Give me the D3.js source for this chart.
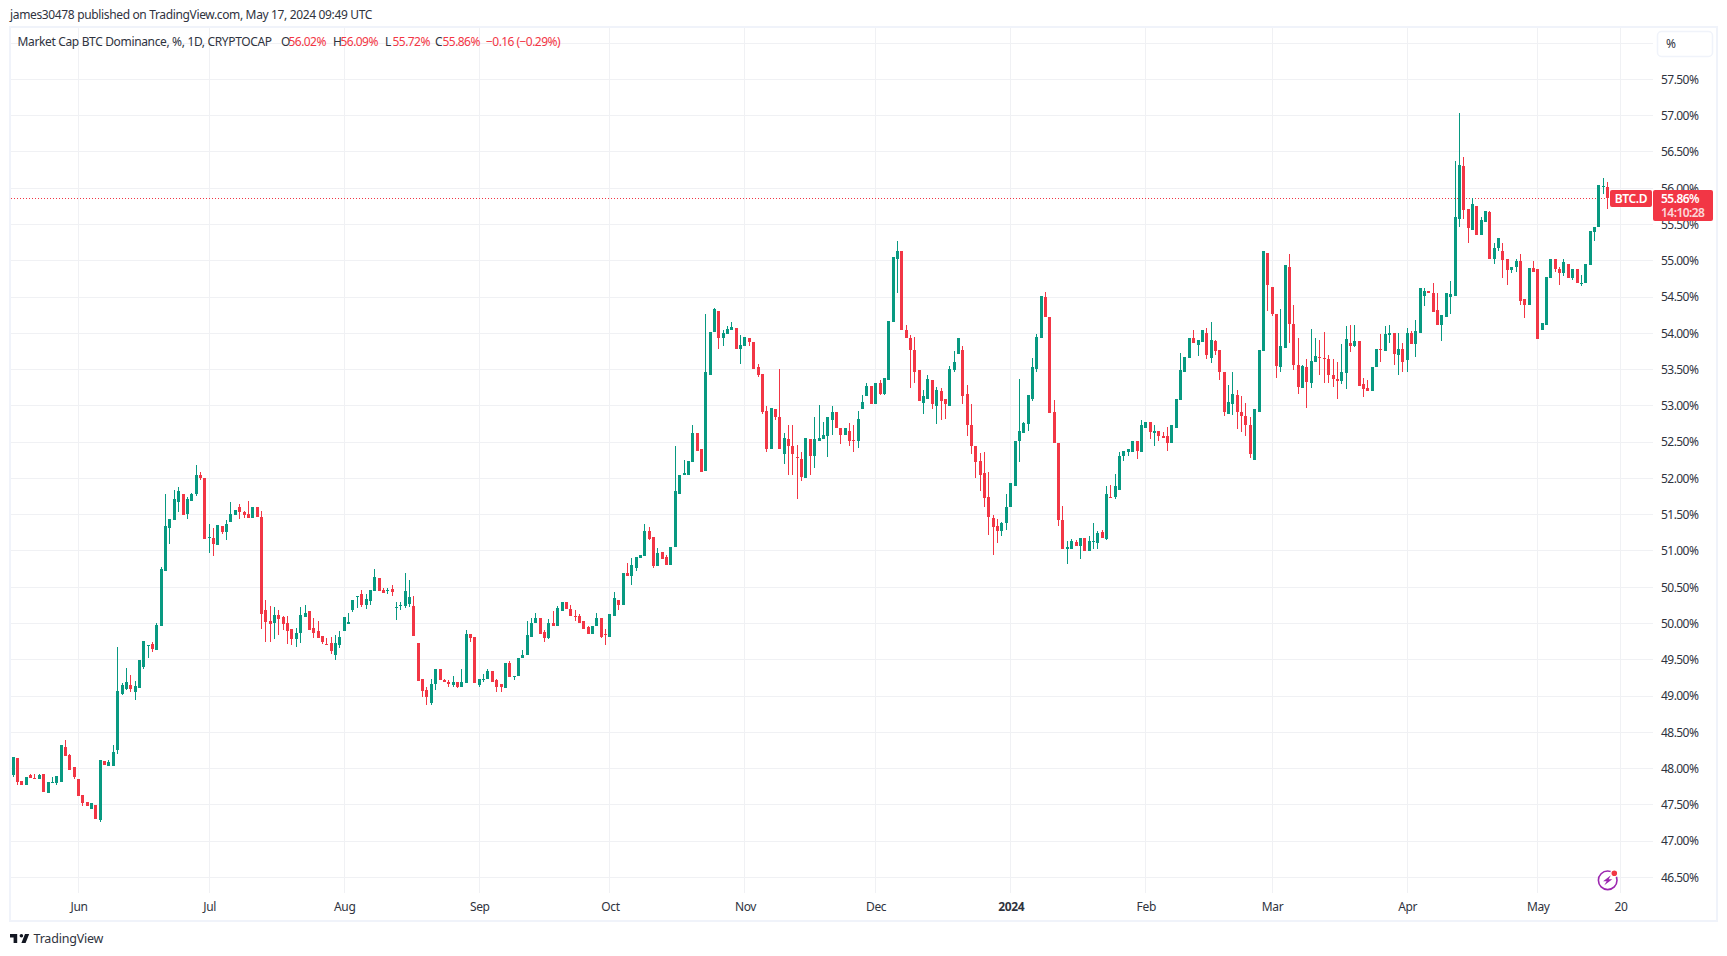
<!DOCTYPE html>
<html>
<head>
    <meta charset="utf-8">
    <title>Market Cap BTC Dominance</title>
    <script src="https://d3js.org/d3.v7.min.js"></script>
    <style>
        html, body { margin: 0; padding: 0; background: #fff; }
        svg { display: block; }
        text { font-family: "Noto Sans", sans-serif; font-size: 12px; fill: #2f333e; letter-spacing: -0.35px; }
        .grid line { stroke: #f0f1f4; stroke-width: 1; shape-rendering: crispEdges; }
        .axis path, .axis line { display: none; }
        .num { letter-spacing: -0.55px; }
    </style>
</head>
<body>
    <div id="chart"></div>
    <script>
        // daily candles, first one is 2023-05-17, last one 2024-05-17
        const firstDay = Date.UTC(2023, 4, 17);

        const opens = [
            47.91,48.15,47.83,47.77,47.91,47.87,47.85,47.93,47.66,47.80,
            47.80,47.81,48.30,48.19,48.02,47.85,47.63,47.54,47.44,47.50,
            47.29,48.11,48.04,48.04,48.25,49.03,49.10,49.15,49.06,49.11,
            49.40,49.70,49.72,49.64,49.97,50.73,51.32,51.43,51.68,51.79,
            51.51,51.69,51.79,52.05,52.00,51.18,51.18,51.08,51.35,51.26,
            51.40,51.50,51.60,51.53,51.51,51.46,51.61,51.47,50.19,50.04,
            50.01,50.12,50.09,50.01,49.93,49.78,49.87,50.09,50.17,49.94,
            49.90,49.83,49.72,49.73,49.57,49.71,49.89,49.99,50.18,50.37,
            50.40,50.26,50.31,50.45,50.63,50.46,50.45,50.48,50.22,50.24,
            50.24,50.27,50.24,49.73,49.24,49.09,48.90,49.16,49.37,49.22,
            49.20,49.15,49.19,49.13,49.18,49.86,49.81,49.15,49.23,49.23,
            49.34,49.22,49.16,49.11,49.46,49.26,49.27,49.52,49.56,49.82,
            50.00,50.07,49.88,49.80,50.00,49.96,50.17,50.29,50.20,50.11,
            50.11,50.03,49.95,49.86,49.97,50.07,49.85,49.81,50.11,50.33,
            50.26,50.70,50.65,50.76,50.90,50.93,51.27,51.19,50.79,50.98,
            50.91,50.81,51.05,51.79,52.04,52.05,52.22,52.62,52.40,52.10,
            53.43,54.02,54.31,53.94,53.99,54.05,54.08,53.79,53.83,53.94,
            53.88,53.53,53.44,52.93,52.41,52.95,52.85,52.34,52.55,52.45,
            52.30,52.27,52.00,52.55,52.31,52.52,52.55,52.59,52.81,52.91,
            52.70,52.60,52.66,52.53,52.52,52.95,53.13,53.28,53.02,53.31,
            53.17,53.36,54.15,55.03,55.13,54.05,53.94,53.77,53.50,53.04,
            53.09,53.36,53.00,53.21,53.10,53.00,53.50,53.71,53.77,53.17,
            52.74,52.44,52.24,52.07,51.75,51.46,51.35,51.27,51.39,51.60,
            51.90,52.51,52.62,52.75,53.10,53.51,53.94,54.50,54.23,52.92,
            52.49,51.43,51.03,51.03,51.13,51.07,51.18,51.00,51.13,51.11,
            51.26,51.17,51.75,51.74,51.84,52.31,52.37,52.37,52.52,52.37,
            52.70,52.78,52.63,52.66,52.58,52.58,52.49,52.69,53.08,53.47,
            53.66,53.94,53.84,53.88,54.01,53.66,53.90,53.77,53.46,52.89,
            53.03,53.15,52.91,52.86,52.74,52.26,52.92,53.75,55.11,54.64,
            54.26,53.54,53.80,54.92,54.13,53.57,53.25,53.53,53.32,53.61,
            53.68,53.66,53.64,53.43,53.37,53.34,53.45,53.86,53.82,53.89,
            53.30,53.24,53.21,53.53,53.78,53.75,53.97,54.01,53.70,53.78,
            53.63,54.01,53.85,54.01,54.51,54.58,54.56,54.32,54.12,54.23,
            54.50,54.52,55.57,56.30,55.71,55.43,55.75,55.36,55.53,55.67,
            55.02,55.17,55.13,55.03,54.87,54.91,54.99,54.47,54.39,54.90,
            54.88,54.04,54.12,54.76,55.02,54.89,54.83,54.96,54.76,54.88,
            54.69,54.69,54.94,55.39,55.46,56.01,56.02
        ];

        const highs = [
            48.16,48.15,47.83,47.89,47.93,47.93,47.93,47.93,47.82,47.89,
            47.90,48.33,48.40,48.20,48.02,47.85,47.63,47.54,47.53,47.50,
            48.12,48.11,48.12,48.33,49.67,49.18,49.39,49.29,49.21,49.50,
            49.76,49.71,49.75,50.00,50.78,51.79,51.44,51.84,51.88,51.79,
            51.75,51.80,52.19,52.09,52.00,51.37,51.32,51.36,51.35,51.42,
            51.68,51.57,51.65,51.55,51.69,51.61,51.61,51.55,50.33,50.24,
            50.23,50.19,50.11,50.11,49.93,49.94,50.23,50.26,50.17,50.08,
            50.04,49.83,49.80,49.82,49.84,49.90,50.09,50.15,50.33,50.38,
            50.46,50.40,50.46,50.75,50.63,50.49,50.49,50.53,50.30,50.29,
            50.69,50.60,50.38,49.73,49.24,49.13,49.23,49.37,49.37,49.23,
            49.22,49.27,49.19,49.37,49.91,49.86,49.82,49.23,49.31,49.37,
            49.34,49.24,49.16,49.46,49.48,49.27,49.53,49.63,50.04,50.07,
            50.15,50.07,49.91,50.06,50.17,50.24,50.29,50.29,50.25,50.18,
            50.13,50.03,49.97,49.97,50.15,50.07,49.92,50.13,50.44,50.33,
            50.69,50.83,50.90,50.91,50.94,51.37,51.33,51.19,51.04,50.98,
            50.95,51.05,52.45,52.05,52.26,52.24,52.73,52.62,52.41,54.27,
            54.02,54.35,54.31,54.04,54.10,54.15,54.08,53.97,53.95,53.94,
            53.88,53.58,53.44,53.00,52.97,52.95,53.51,52.62,52.74,52.74,
            52.46,52.37,52.56,52.55,52.85,53.01,52.78,52.84,53.00,52.91,
            52.70,52.70,52.77,52.73,52.93,53.15,53.31,53.28,53.32,53.36,
            53.39,54.17,55.05,55.27,55.13,54.12,53.98,53.95,53.50,53.22,
            53.43,53.36,53.26,53.25,53.10,53.55,53.76,53.94,53.83,53.29,
            53.03,52.44,52.35,52.37,52.09,51.49,51.44,51.40,51.79,51.93,
            52.52,53.37,52.78,53.15,53.66,53.99,54.52,54.57,54.23,53.08,
            52.49,51.62,51.14,51.17,51.15,51.18,51.18,51.21,51.39,51.28,
            51.29,51.90,51.91,52.06,52.37,52.38,52.41,52.51,52.52,52.80,
            52.78,52.78,52.73,52.66,52.64,52.71,52.73,53.10,53.73,53.68,
            53.94,54.04,53.91,54.04,54.08,54.16,53.91,53.77,53.46,53.29,
            53.46,53.22,53.14,53.04,52.84,52.95,53.77,55.14,55.11,54.64,
            54.26,54.33,54.94,55.09,54.39,53.93,53.57,53.65,54.06,53.93,
            53.91,54.02,53.70,53.64,53.61,53.85,54.10,54.12,54.12,53.89,
            53.38,53.35,53.54,53.78,53.99,54.10,54.12,54.01,54.00,53.86,
            54.07,54.03,54.19,54.63,54.63,54.58,54.69,54.55,54.25,54.56,
            54.72,56.37,57.03,56.43,55.71,55.86,55.75,55.61,55.68,55.68,
            55.25,55.31,55.25,55.03,54.92,55.03,55.09,54.47,54.90,54.99,
            54.88,54.14,54.77,55.02,55.02,54.91,55.02,54.96,54.88,54.88,
            54.81,54.96,55.41,55.46,56.04,56.14,56.09
        ];

        const lows = [
            47.89,47.78,47.77,47.77,47.87,47.85,47.85,47.68,47.66,47.80,
            47.78,47.81,48.17,47.98,47.85,47.62,47.48,47.48,47.44,47.31,
            47.26,48.05,48.04,48.04,48.20,49.02,49.08,49.06,48.95,49.11,
            49.37,49.53,49.61,49.64,49.97,50.73,51.10,51.43,51.54,51.50,
            51.44,51.69,51.76,51.98,51.17,50.97,50.93,51.08,51.24,51.15,
            51.40,51.50,51.44,51.46,51.46,51.46,51.47,49.93,49.75,49.75,
            49.78,49.84,49.91,49.72,49.71,49.68,49.73,50.09,49.91,49.80,
            49.80,49.72,49.71,49.58,49.50,49.66,49.89,49.99,50.16,50.22,
            50.23,50.20,50.26,50.45,50.45,50.42,50.41,50.38,50.05,50.18,
            50.22,50.23,49.83,49.21,48.98,48.88,48.87,49.08,49.22,49.20,
            49.13,49.13,49.11,49.13,49.18,49.74,49.18,49.13,49.19,49.23,
            49.19,49.05,49.05,49.11,49.26,49.22,49.27,49.52,49.56,49.82,
            50.00,49.86,49.74,49.78,49.96,49.96,50.17,50.20,50.10,50.04,
            50.00,49.93,49.86,49.86,49.97,49.80,49.70,49.81,50.11,50.18,
            50.26,50.65,50.53,50.73,50.90,50.93,51.15,50.76,50.79,50.89,
            50.81,50.81,51.05,51.79,52.04,52.05,52.22,52.38,52.09,52.10,
            53.43,54.02,53.79,53.83,53.99,54.05,53.79,53.58,53.82,53.82,
            53.51,53.40,52.89,52.36,52.41,52.80,52.41,52.20,52.04,52.04,
            51.71,51.97,52.00,52.04,52.15,52.51,52.55,52.30,52.60,52.69,
            52.48,52.60,52.45,52.37,52.42,52.95,53.13,53.03,53.02,53.15,
            53.15,53.36,54.15,54.55,54.05,53.93,53.25,53.32,53.07,52.89,
            53.09,52.95,52.75,52.80,52.82,53.00,53.47,53.71,53.02,52.58,
            52.33,52.01,51.82,51.61,51.22,50.95,51.11,51.20,51.29,51.60,
            51.90,52.23,52.62,52.66,53.07,53.46,53.94,54.23,52.90,52.49,
            51.35,51.03,50.82,51.03,51.07,50.89,51.00,51.00,51.03,51.02,
            51.18,51.15,51.74,51.72,51.84,52.24,52.31,52.37,52.27,52.37,
            52.70,52.55,52.45,52.51,52.56,52.38,52.49,52.69,53.08,53.47,
            53.66,53.86,53.69,53.88,53.65,53.59,53.70,53.35,52.86,52.89,
            52.88,52.68,52.64,52.59,52.28,52.26,52.92,53.75,54.31,54.24,
            53.39,53.46,53.80,53.86,53.50,53.17,53.25,52.97,53.25,53.60,
            53.43,53.32,53.31,53.26,53.09,53.30,53.23,53.74,53.81,53.28,
            53.12,53.21,53.21,53.53,53.60,53.75,53.86,53.57,53.43,53.47,
            53.46,53.85,53.67,54.01,54.37,54.56,54.30,54.12,53.90,54.23,
            54.26,54.52,55.46,55.57,55.24,55.43,55.36,55.36,55.53,55.03,
            54.95,55.14,54.76,54.66,54.83,54.84,54.39,54.21,54.39,54.85,
            53.92,54.04,54.12,54.76,54.85,54.67,54.79,54.76,54.74,54.69,
            54.65,54.69,54.94,55.27,55.46,55.92,55.72
        ];

        const closes = [
            48.16,47.82,47.77,47.89,47.87,47.85,47.91,47.68,47.82,47.82,
            47.90,48.33,48.17,47.98,47.89,47.62,47.53,47.48,47.53,47.31,
            48.12,48.05,48.09,48.23,49.07,49.15,49.20,49.10,49.14,49.50,
            49.76,49.71,49.65,49.98,50.75,51.35,51.44,51.72,51.82,51.50,
            51.72,51.79,52.04,52.01,51.17,51.19,51.10,51.36,51.26,51.37,
            51.51,51.57,51.53,51.50,51.46,51.61,51.47,50.13,50.02,49.99,
            50.12,50.06,49.99,49.90,49.79,49.87,50.12,50.15,49.91,49.87,
            49.80,49.75,49.71,49.62,49.73,49.82,50.09,50.02,50.33,50.38,
            50.26,50.34,50.46,50.64,50.45,50.42,50.46,50.44,50.23,50.25,
            50.45,50.37,49.83,49.21,49.07,48.99,49.16,49.37,49.22,49.20,
            49.16,49.19,49.13,49.20,49.86,49.80,49.18,49.23,49.24,49.34,
            49.19,49.13,49.12,49.45,49.26,49.27,49.53,49.57,49.84,50.00,
            50.07,49.86,49.80,50.00,49.96,50.21,50.29,50.20,50.10,50.10,
            50.00,49.93,49.86,49.97,50.07,49.81,49.84,50.13,50.35,50.26,
            50.69,50.65,50.80,50.91,50.94,51.27,51.16,50.79,50.97,50.89,
            50.81,51.05,51.82,52.05,52.07,52.24,52.63,52.38,52.09,53.46,
            54.02,54.33,53.94,54.01,54.06,54.09,53.79,53.84,53.95,53.88,
            53.51,53.43,52.92,52.41,52.97,52.85,52.41,52.56,52.45,52.33,
            52.29,52.02,52.56,52.31,52.55,52.56,52.60,52.84,52.92,52.69,
            52.60,52.69,52.52,52.52,52.82,53.06,53.28,53.03,53.32,53.17,
            53.39,54.17,55.05,55.13,54.05,53.93,53.77,53.46,53.07,53.13,
            53.37,53.02,53.22,53.07,53.03,53.51,53.60,53.94,53.14,52.74,
            52.44,52.22,52.05,51.73,51.47,51.33,51.28,51.39,51.60,51.93,
            52.52,52.66,52.77,53.15,53.54,53.95,54.52,54.23,52.90,52.49,
            51.43,51.03,51.06,51.14,51.07,51.18,51.00,51.14,51.14,51.25,
            51.18,51.78,51.74,51.89,52.31,52.38,52.41,52.51,52.38,52.74,
            52.78,52.64,52.66,52.58,52.56,52.49,52.73,53.10,53.50,53.68,
            53.94,53.86,53.91,54.04,53.70,53.91,53.76,53.46,52.91,53.06,
            53.17,52.91,52.86,52.73,52.34,52.95,53.77,55.14,54.66,54.26,
            53.55,53.82,54.94,54.13,53.57,53.26,53.55,53.33,53.62,53.69,
            53.66,53.65,53.42,53.37,53.34,53.47,53.92,53.82,53.89,53.28,
            53.23,53.21,53.54,53.78,53.77,53.99,54.01,53.71,53.78,53.60,
            54.01,53.85,54.03,54.63,54.59,54.56,54.30,54.12,54.25,54.56,
            54.54,55.60,56.32,55.70,55.45,55.78,55.36,55.56,55.68,55.03,
            55.17,55.31,55.01,54.87,54.92,55.00,54.45,54.39,54.90,54.85,
            53.92,54.14,54.77,55.02,54.88,54.83,54.98,54.76,54.88,54.69,
            54.70,54.96,55.41,55.46,56.04,56.03,55.86
        ];

        const priceTicks = [46.5, 47, 47.5, 48, 48.5, 49, 49.5, 50, 50.5, 51, 51.5, 52,
            52.5, 53, 53.5, 54, 54.5, 55, 55.5, 56, 56.5, 57, 57.5, 58];
        const timeTicks = [
            [2023, 5, 1], [2023, 6, 1], [2023, 7, 1], [2023, 8, 1], [2023, 9, 1], [2023, 10, 1],
            [2023, 11, 1], [2024, 0, 1], [2024, 1, 1], [2024, 2, 1], [2024, 3, 1], [2024, 4, 1], [2024, 4, 20]
        ].map(d => new Date(Date.UTC(d[0], d[1], d[2])));
        const timeLabels = ["Jun", "Jul", "Aug", "Sep", "Oct", "Nov", "Dec", "2024", "Feb", "Mar", "Apr", "May", "20"];

        const header = "james30478 published on TradingView.com, May 17, 2024 09:49 UTC";
        const title = "Market Cap BTC Dominance, %, 1D, CRYPTOCAP";
        const ohlcNames = ["O", "H", "L", "C"];
        const ohlcValues = ["56.02%", "56.09%", "55.72%", "55.86%"];
        const changeText = "\u22120.16 (\u22120.29%)";
        const lastClose = 55.86;
        const countdown = "14:10:28";
        const symbol = "BTC.D";

        const green = "#089981";
        const red = "#f23645";
        const frameColor = "#f0f3fa";

        const width = 1727, height = 956;
        const plotLeft = 11, plotRight = 1653, plotTop = 28, plotBottom = 893;

        const svg = d3.select("#chart").append("svg")
            .attr("width", width)
            .attr("height", height);

        const x = d3.scaleUtc()
            .domain([new Date(Date.UTC(2023, 5, 1)), new Date(Date.UTC(2024, 4, 17))])
            .range([78.5, 1607.5]);
        const y = d3.scaleLinear()
            .domain([46.5, 57.5])
            .range([877.4, 79.4]);

        const candles = opens.map((o, i) => ({
            date: new Date(firstDay + i * 864e5),
            open: o, high: highs[i], low: lows[i], close: closes[i]
        }));

        // frame
        svg.append("rect")
            .attr("x", 10).attr("y", 27)
            .attr("width", 1707).attr("height", 894)
            .attr("fill", "#fff")
            .attr("stroke", frameColor).attr("stroke-width", 2);

        // grid
        const grid = svg.append("g").attr("class", "grid");
        grid.selectAll("line.h")
            .data(priceTicks)
            .enter().append("line")
            .attr("class", "h")
            .attr("x1", plotLeft).attr("x2", plotRight)
            .attr("y1", d => Math.floor(y(d)) + 0.5)
            .attr("y2", d => Math.floor(y(d)) + 0.5);
        grid.selectAll("line.v")
            .data(timeTicks)
            .enter().append("line")
            .attr("class", "v")
            .attr("y1", plotTop).attr("y2", plotBottom)
            .attr("x1", d => Math.floor(x(d)) + 0.5)
            .attr("x2", d => Math.floor(x(d)) + 0.5);

        // price axis
        const yAxis = svg.append("g")
            .attr("class", "axis")
            .attr("transform", "translate(1661,0)")
            .call(d3.axisRight(y)
                .tickValues(priceTicks.filter(d => d <= 57.5))
                .tickSize(0)
                .tickPadding(0)
                .tickFormat(d => d.toFixed(2) + "%"));
        yAxis.selectAll("text")
            .attr("class", "num")
            .style("font-size", "12px")
            .style("fill", "#2f333e");

        // time axis
        const xAxis = svg.append("g")
            .attr("class", "axis")
            .attr("transform", "translate(0,902)")
            .call(d3.axisBottom(x)
                .tickValues(timeTicks)
                .tickSize(0)
                .tickPadding(0)
                .tickFormat((d, i) => timeLabels[i]));
        xAxis.selectAll("text")
            .style("font-size", "12px")
            .style("fill", "#2f333e")
            .style("font-weight", (d, i) => timeLabels[i] === "2024" ? "700" : "400");

        // last price line, behind the candles
        svg.append("line")
            .attr("x1", plotLeft).attr("x2", 1610)
            .attr("y1", Math.floor(y(lastClose)) + 0.5)
            .attr("y2", Math.floor(y(lastClose)) + 0.5)
            .attr("stroke", red)
            .attr("stroke-width", 1)
            .attr("stroke-dasharray", "1 2")
            .attr("shape-rendering", "crispEdges");

        // candles
        const candle = svg.append("g").selectAll("g")
            .data(candles)
            .enter().append("g")
            .attr("fill", d => d.close >= d.open ? green : red)
            .attr("shape-rendering", "crispEdges");
        candle.append("rect")
            .attr("x", d => Math.floor(x(d.date)))
            .attr("width", 1)
            .attr("y", d => Math.round(y(d.high)))
            .attr("height", d => Math.max(1, Math.round(y(d.low)) - Math.round(y(d.high))));
        candle.append("rect")
            .attr("x", d => Math.floor(x(d.date)) - 1)
            .attr("width", 3)
            .attr("y", d => Math.round(y(Math.max(d.open, d.close))))
            .attr("height", d => Math.max(1, Math.round(y(Math.min(d.open, d.close))) - Math.round(y(Math.max(d.open, d.close)))));

        // header and legend
        svg.append("text").attr("x", 10).attr("y", 19).text(header);
        svg.append("text").attr("x", 17.5).attr("y", 46).text(title);
        const legendX = [281, 333, 385, 435];
        ohlcNames.forEach((name, i) => {
            svg.append("text").attr("x", legendX[i]).attr("y", 46).text(name);
            svg.append("text").attr("class", "num").attr("x", legendX[i] + 7.5).attr("y", 46)
                .style("fill", red).text(ohlcValues[i]);
        });
        svg.append("text").attr("class", "num").attr("x", 486).attr("y", 46).style("fill", red).text(changeText);

        // % button
        svg.append("rect")
            .attr("x", 1657.5).attr("y", 31.5)
            .attr("width", 55).attr("height", 25).attr("rx", 4)
            .attr("fill", "#fff").attr("stroke", frameColor).attr("stroke-width", 1.5);
        svg.append("text").attr("x", 1666).attr("y", 48).text("%");

        // last price labels
        svg.append("rect")
            .attr("x", 1610).attr("y", 190)
            .attr("width", 42).attr("height", 17).attr("rx", 2)
            .attr("fill", red);
        svg.append("text").attr("x", 1631).attr("y", 203)
            .attr("text-anchor", "middle")
            .style("fill", "#fff").style("font-weight", 600).text(symbol);
        svg.append("rect")
            .attr("x", 1653).attr("y", 190)
            .attr("width", 60).attr("height", 31).attr("rx", 2)
            .attr("fill", red);
        svg.append("text").attr("class", "num").attr("x", 1661).attr("y", 203)
            .style("fill", "#fff").style("font-weight", 600).text(lastClose.toFixed(2) + "%");
        svg.append("text").attr("class", "num").attr("x", 1661).attr("y", 217)
            .style("fill", "#fff").style("opacity", 0.8).style("font-weight", 600).text(countdown);

        // lightning badge
        const badge = svg.append("g").attr("transform", "translate(1607.7,880.3)");
        badge.append("circle")
            .attr("r", 9.3)
            .attr("fill", "#fff")
            .attr("stroke", "#9c27b0")
            .attr("stroke-width", 1.6);
        badge.append("path")
            .attr("d", "M3.2 -5 L-4.6 1 H-1 L-3.4 5 L4.6 -1 H1 Z")
            .attr("fill", "#9c27b0");
        badge.append("circle")
            .attr("cx", 6.6).attr("cy", -7)
            .attr("r", 3.4)
            .attr("fill", red)
            .attr("stroke", "#fff")
            .attr("stroke-width", 1.2);

        // logo
        svg.append("path")
            .attr("transform", "translate(8.8,930.4) scale(0.6)")
            .attr("d", "M14 6H2v6h6v9h6V6Zm14 15h-7l6-15h7l-6 15Zm-7-9a3 3 0 1 0 0-6 3 3 0 0 0 0 6Z")
            .attr("fill", "#131722");
        svg.append("text")
            .attr("x", 33.5).attr("y", 943)
            .style("font-size", "12.5px")
            .style("letter-spacing", "-0.2px")
            .text("TradingView");
    </script>
</body>
</html>
